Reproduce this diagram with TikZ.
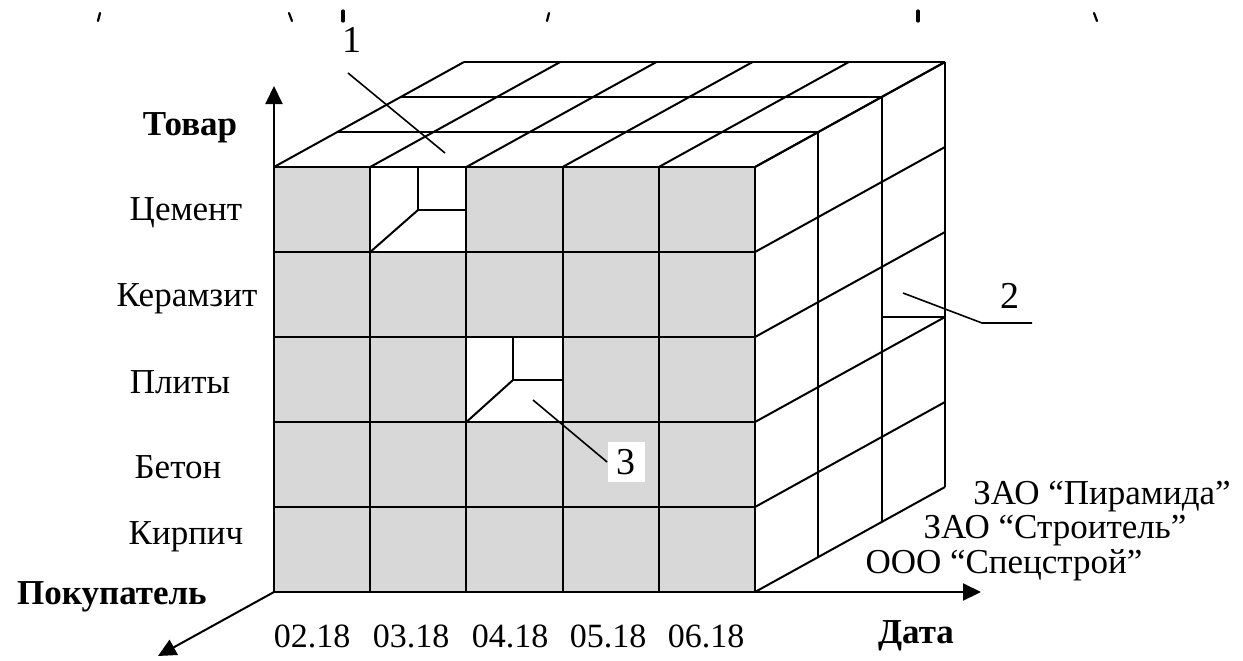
\documentclass[tikz,border=0pt]{standalone}
\usepackage{fontspec}
\setmainfont{Liberation Serif}
\usetikzlibrary{arrows.meta}
\definecolor{cellgray}{RGB}{216,216,216}
\begin{document}
\begin{tikzpicture}[x=0.5pt,y=-0.5pt,
  edge/.style={line width=1pt,black},
  axis/.style={line width=1pt,-{Triangle[length=9pt,width=8.5pt]}},
  leader/.style={line width=0.8pt},
  lbl/.style={font=\fontsize{17.5}{20}\selectfont,inner sep=0pt},
  datelbl/.style={font=\fontsize{17}{20}\selectfont,inner sep=0pt},
  axlbl/.style={font=\fontsize{17.5}{20}\selectfont\bfseries,inner sep=0pt},
  numlbl/.style={font=\fontsize{19}{22}\selectfont,inner sep=0pt},
  tick/.style={line width=1.1pt,line cap=round}]
\useasboundingbox (0,0) rectangle (1243,660);

% stray strokes along the upper edge
\draw[tick] (100,13) -- (98,21);
\draw[tick] (289,13) -- (292,21);
\draw[tick,line width=1.6pt] (343,11) -- (343,21);
\draw[tick] (549,13) -- (547,21);
\draw[tick,line width=1.6pt] (918,11) -- (918,21);
\draw[tick] (1094,13) -- (1097,21);

% front face: gray cells, two emptied cells left white
\fill[cellgray] (274,167) rectangle (755,592);
\fill[white] (370.2,167) rectangle (466.4,252);
\fill[white] (466.4,337) rectangle (562.6,422);
\foreach \i in {0,...,5}{
  \draw[edge] ({274+\i*96.2},167) -- ({274+\i*96.2},592);
  \draw[edge] (274,{167+\i*85}) -- (755,{167+\i*85});
}

% top face
\foreach \k in {1,2,3}
  \draw[edge] ({274+\k*63.33},{167-\k*35}) -- ({755+\k*63.33},{167-\k*35});
\foreach \i in {0,...,5}
  \draw[edge] ({274+\i*96.2},167) -- ({464+\i*96.2},62);

% right face
\foreach \k in {1,2,3}
  \draw[edge] ({755+\k*63.33},{167-\k*35}) -- ({755+\k*63.33},{592-\k*35});
\foreach \j in {0,...,5}
  \draw[edge] (755,{167+\j*85}) -- (945,{62+\j*85});

% inner walls of the removed cells
\draw[edge] (418,167) -- (418,210) -- (466.4,210);
\draw[edge] (418,210) -- (370.2,252);
\draw[edge] (513,337) -- (513,380) -- (562.6,380);
\draw[edge] (513,380) -- (466.4,422);
\draw[edge] (881.7,317) -- (945,317);

% axes
\coordinate (O) at (274,592);
\coordinate (upTip) at (274,86);
\coordinate (rightTip) at (981,592);
\coordinate (diagTip) at (158,656);
\draw[axis] (O) -- (upTip);
\draw[axis] (O) -- (rightTip);
\draw[axis] (O) -- (diagTip);

% axis titles
\node[axlbl] (tovar) at (190,128) {Товар};
\node[axlbl] (buyer) at (112,597) {Покупатель};
\node[axlbl] (date) at (916,636) {Дата};

% goods
\node[lbl] (g1) at (186,213) {Цемент};
\node[lbl] (g2) at (187,299) {Керамзит};
\node[lbl] (g3) at (180,382) {Плиты};
\node[lbl] (g4) at (178,467) {Бетон};
\node[lbl] (g5) at (186,537) {Кирпич};

% dates
\node[datelbl] (d1) at (312,636) {02.18};
\node[datelbl] (d2) at (411,636) {03.18};
\node[datelbl] (d3) at (510,636) {04.18};
\node[datelbl] (d4) at (608,636) {05.18};
\node[datelbl] (d5) at (706,636) {06.18};

% buyers
\node[lbl] (b1) at (1102,497) {ЗАО “Пирамида”};
\node[lbl] (b2) at (1055,531) {ЗАО “Строитель”};
\node[lbl] (b3) at (1004,565) {ООО “Спецстрой”};

% callouts
\node[numlbl] (n1) at (352,40) {1};
\coordinate (c1a) at (348,73);
\coordinate (c1b) at (445,153);
\draw[leader] (c1a) -- (c1b);

\node[numlbl] (n2) at (1010,296) {2};
\coordinate (c2a) at (903,293);
\coordinate (c2b) at (982,323);
\coordinate (c2c) at (1032,323);
\draw[leader] (c2a) -- (c2b) -- (c2c);

\coordinate (c3a) at (533,400);
\node[numlbl,fill=white,minimum width=18.5pt,minimum height=20pt] (n3) at (626,462) {3};
\draw[leader] (c3a) -- (n3.west);
\end{tikzpicture}
\end{document}
